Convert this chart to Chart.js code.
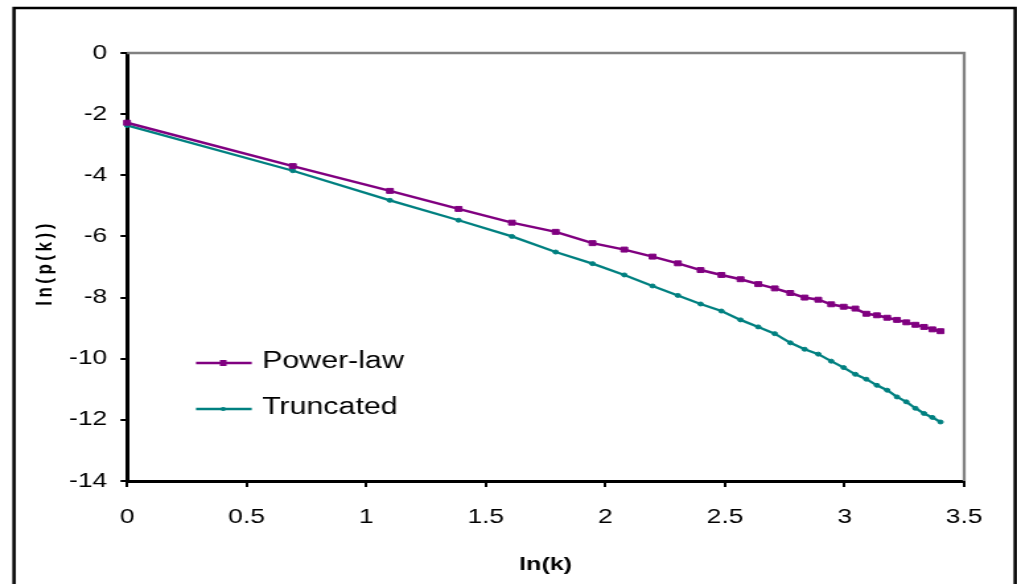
<!DOCTYPE html>
<html><head><meta charset="utf-8">
<script src="https://cdn.jsdelivr.net/npm/chart.js@4.4.1/dist/chart.umd.min.js"></script>
<style>
html,body{margin:0;padding:0;background:#fff;overflow:hidden;width:1017px;height:584px;}
#wrap{position:absolute;left:0;top:0;width:770px;height:584px;transform-origin:0 0;transform:scaleX(1.32078);}
canvas{display:block;}
</style></head><body>
<div id="wrap"><canvas id="c" width="770" height="584"></canvas></div>
<script>
// ln(k) for k = 1..30
const lnK = [0, 0.693, 1.099, 1.386, 1.609, 1.792, 1.946, 2.079, 2.197, 2.303,
  2.398, 2.485, 2.565, 2.639, 2.708, 2.773, 2.833, 2.890, 2.944, 2.996,
  3.045, 3.091, 3.135, 3.178, 3.219, 3.258, 3.296, 3.332, 3.367, 3.401];
const powerLaw = [-2.28, -3.70, -4.51, -5.10, -5.55, -5.85, -6.22, -6.43, -6.66, -6.88,
  -7.10, -7.26, -7.40, -7.56, -7.70, -7.85, -8.00, -8.07, -8.22, -8.30,
  -8.36, -8.53, -8.58, -8.66, -8.73, -8.81, -8.89, -8.96, -9.04, -9.10];
const truncated = [-2.37, -3.85, -4.82, -5.47, -6.00, -6.51, -6.89, -7.26, -7.62, -7.93,
  -8.21, -8.44, -8.73, -8.96, -9.18, -9.48, -9.69, -9.85, -10.08, -10.29,
  -10.51, -10.67, -10.87, -11.03, -11.25, -11.41, -11.62, -11.79, -11.92, -12.07];
const seriesNames = ['Power-law', 'Truncated'];
const xTicks = [0, 0.5, 1, 1.5, 2, 2.5, 3, 3.5];
const yTicks = [0, -2, -4, -6, -8, -10, -12, -14];
const xTitle = 'ln(k)';
const yTitle = 'ln(p(k))';

const FONT = "'Liberation Sans', Arial, sans-serif";

const framePlugin = {
  id: 'frame',
  beforeDatasetsDraw(chart) {
    const {ctx, chartArea: a} = chart;
    ctx.save();
    ctx.strokeStyle = '#808080';
    ctx.lineWidth = 2.3;
    ctx.beginPath();
    ctx.moveTo(a.left, a.top);
    ctx.lineTo(a.right, a.top);
    ctx.lineTo(a.right, a.bottom);
    ctx.stroke();
    ctx.restore();
  },
  afterDraw(chart) {
    const {ctx} = chart;
    ctx.save();
    // outer border
    ctx.strokeStyle = '#000';
    ctx.lineWidth = 2.5;
    ctx.strokeRect(10.6, 8, 758, 620);
    // y title with letter spacing
    ctx.translate(34.8, 265);
    ctx.rotate(-Math.PI / 2);
    ctx.font = "bold 17px " + FONT;
    ctx.fillStyle = '#000';
    ctx.textAlign = 'center';
    ctx.textBaseline = 'middle';
    try { ctx.letterSpacing = '3.5px'; } catch (e) {}
    ctx.fillText(yTitle, 2, 0);
    ctx.restore();

    // legend inside plot
    ctx.save();
    const rows = [363, 409];
    chart.data.datasets.forEach((ds, i) => {
      const y = rows[i];
      ctx.strokeStyle = ds.borderColor;
      ctx.lineWidth = 2.5;
      ctx.beginPath();
      ctx.moveTo(148.4, y);
      ctx.lineTo(190.6, y);
      ctx.stroke();
      ctx.fillStyle = ds.borderColor;
      if (i === 0) ctx.fillRect(169 - 2.5, y - 3, 5, 6);
      else { ctx.beginPath(); ctx.arc(169, y, 2, 0, Math.PI * 2); ctx.fill(); }
      ctx.fillStyle = '#000';
      ctx.font = "23px " + FONT;
      ctx.textAlign = 'left';
      ctx.textBaseline = 'middle';
      ctx.fillText(ds.label, 198.4, y - 1);
    });
    ctx.restore();
  }
};

const tickFont = {family: FONT, size: 20};

new Chart(document.getElementById('c'), {
  type: 'line',
  data: {
    datasets: [
      {
        label: seriesNames[0],
        data: lnK.map((x, i) => ({x: x, y: powerLaw[i]})),
        borderColor: '#800080', backgroundColor: '#800080',
        borderWidth: 2.5, pointStyle: 'rect', pointRadius: 3.5, pointBorderWidth: 1,
        tension: 0, clip: false
      },
      {
        label: seriesNames[1],
        data: lnK.map((x, i) => ({x: x, y: truncated[i]})),
        borderColor: '#008080', backgroundColor: '#008080',
        borderWidth: 2.3, pointStyle: 'circle', pointRadius: 2, pointBorderWidth: 1,
        tension: 0, clip: false
      }
    ]
  },
  options: {
    responsive: false, animation: false, devicePixelRatio: 1,
    layout: {padding: {left: 0, top: 53, right: 40, bottom: 0}},
    plugins: {legend: {display: false}, tooltip: {enabled: false}},
    scales: {
      x: {
        type: 'linear', min: xTicks[0], max: xTicks[xTicks.length - 1],
        afterBuildTicks(s) { s.ticks = xTicks.map(v => ({value: v})); },
        ticks: {color: '#000', font: tickFont, padding: 18, maxRotation: 0, autoSkip: false,
          callback: v => String(v)},
        grid: {display: true, drawOnChartArea: false, drawTicks: true, tickLength: 6, color: '#000', lineWidth: 2},
        border: {display: true, color: '#000', width: 3},
        title: {display: true, text: xTitle, color: '#000', font: {family: FONT, size: 19, weight: 'bold'}, padding: {top: 0, bottom: 8}},
        afterFit(s) { s.height = 103; }
      },
      y: {
        type: 'linear', min: yTicks[yTicks.length - 1], max: yTicks[0],
        afterBuildTicks(s) { s.ticks = yTicks.slice().reverse().map(v => ({value: v})); },
        ticks: {color: '#000', font: tickFont, padding: 10, autoSkip: false,
          callback: v => String(v)},
        grid: {display: true, drawOnChartArea: false, drawTicks: true, tickLength: 5, color: '#000', lineWidth: 2},
        border: {display: true, color: '#000', width: 3},
        title: {display: false},
        afterFit(s) { s.width = 96.2; }
      }
    }
  },
  plugins: [framePlugin]
});
</script>
</body></html>
